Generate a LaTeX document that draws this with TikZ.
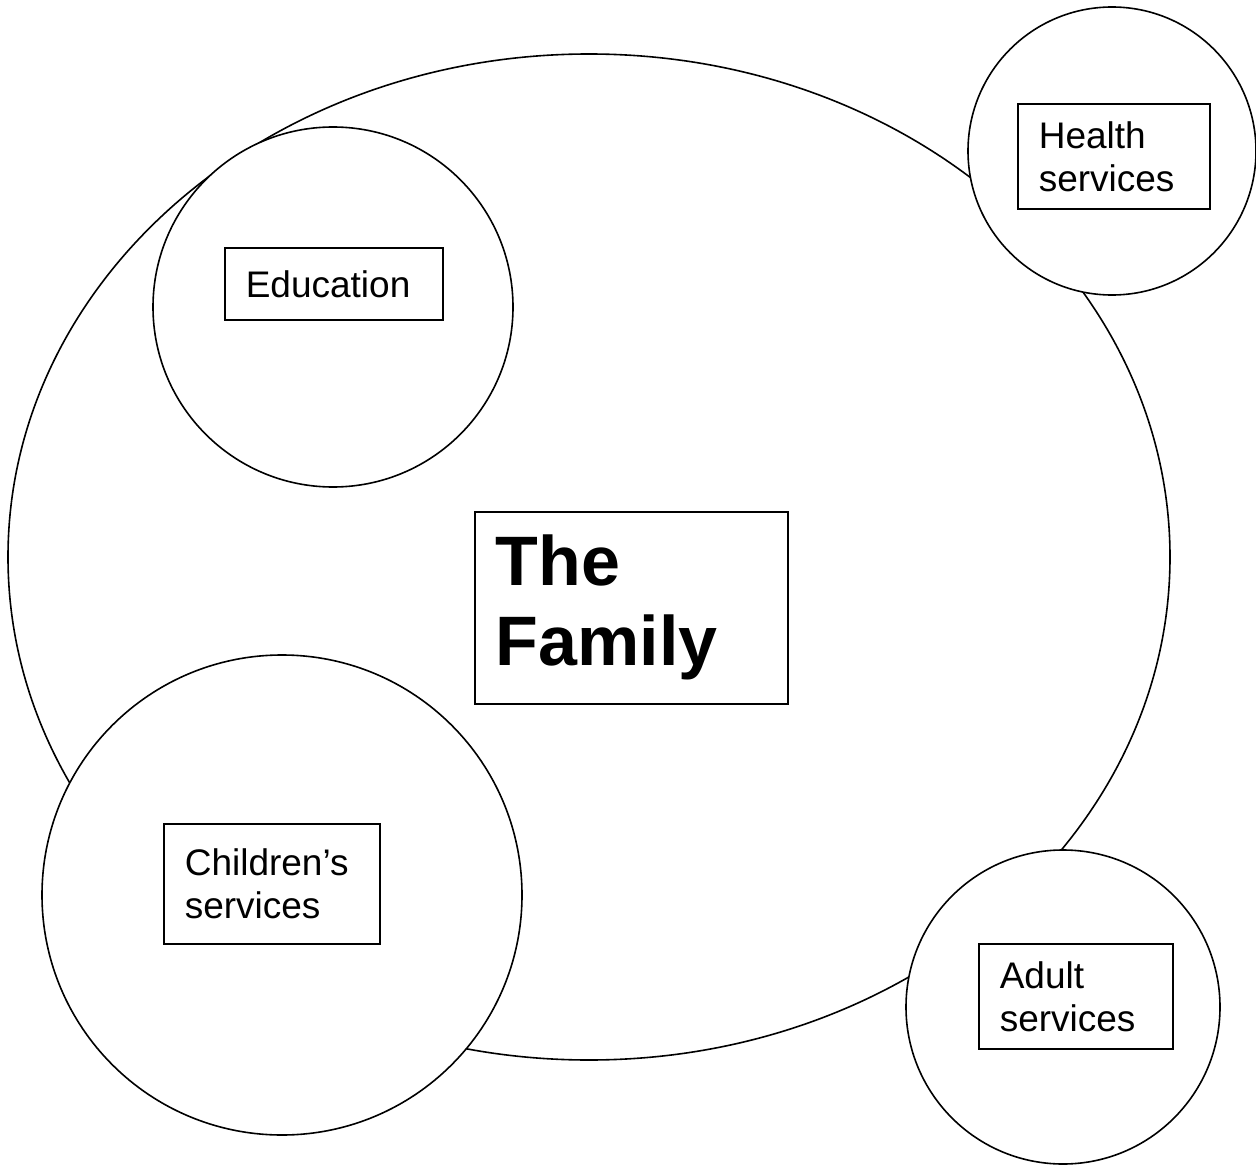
\documentclass[tikz,border=0pt]{standalone}
\usepackage{fontspec}
\setmainfont{Liberation Sans}
\usetikzlibrary{shapes.geometric}

\begin{document}
\begin{tikzpicture}[x=1pt, y=-1pt, line width=1.6pt,
  ring/.style={circle, draw, fill=white, inner sep=0pt, minimum size=#1},
  tag/.style={draw, fill=white, anchor=north west, align=left, inner xsep=21pt, inner ysep=0pt,
    font=\fontsize{37}{43}\selectfont}]
  \useasboundingbox (0,0) rectangle (1256,1169);
  \node[ellipse, draw, inner sep=0pt, minimum width=1162pt, minimum height=1006pt] (family) at (589,557) {};
  \node[ring=360pt] (edu) at (333,307) {};
  \node[ring=288pt] (health) at (1112,151) {};
  \node[ring=480pt] (child) at (282,895) {};
  \node[ring=314pt] (adult) at (1063,1007) {};
  \node[tag, text width=176pt, minimum height=72pt] (edubox) at (224,247) {Education};
  \node[tag, text width=150pt, minimum height=105pt] (healthbox) at (1017,103) {Health\\services};
  \node[tag, text width=174pt, minimum height=120pt] (childbox) at (163,823) {Children’s\\services};
  \node[tag, text width=152pt, minimum height=105pt] (adultbox) at (978,943) {Adult\\services};
  \node[tag, text width=271pt, minimum height=192pt, font=\fontsize{70}{80}\selectfont\bfseries] (familybox) at (474,511) {The\\Family};
\end{tikzpicture}
\end{document}
